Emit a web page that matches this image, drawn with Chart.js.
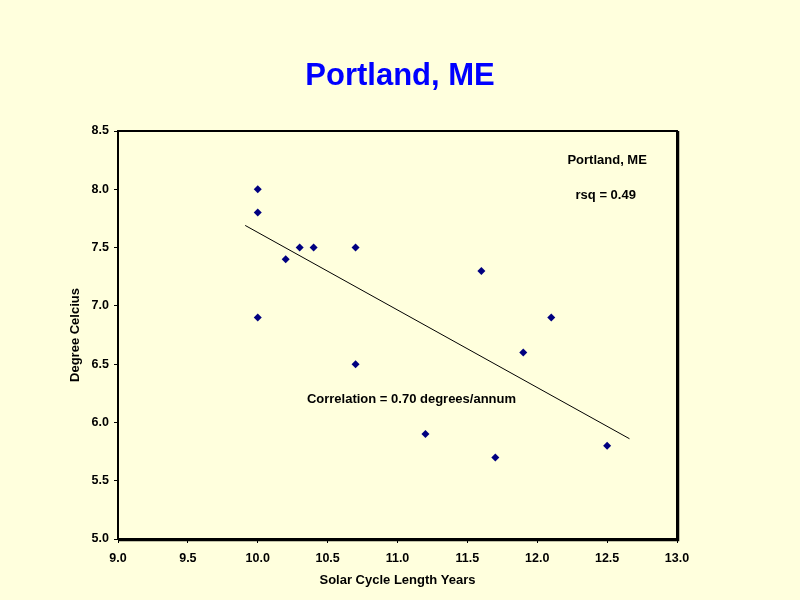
<!DOCTYPE html>
<html>
<head>
<meta charset="utf-8">
<script src="https://cdn.jsdelivr.net/npm/chart.js@4/dist/chart.umd.min.js"></script>
<style>
  html, body { margin: 0; padding: 0; background: #FFFFDD; }
  #wrap { width: 800px; height: 600px; }
</style>
</head>
<body>
<div id="wrap"><canvas id="c" width="800" height="600"></canvas></div>
<script>
// Data
const cycleLength = [10.0, 10.0, 10.0, 10.2, 10.3, 10.4, 10.7, 10.7, 11.2, 11.6, 11.7, 11.9, 12.1, 12.5];
const temperature = [8.0, 7.8, 6.9, 7.4, 7.5, 7.5, 7.5, 6.5, 5.9, 7.3, 5.7, 6.6, 6.9, 5.8];
const trendX = [9.91, 12.66];
const trendY = [7.69, 5.86];
const xTicks = [9.0, 9.5, 10.0, 10.5, 11.0, 11.5, 12.0, 12.5, 13.0];
const yTicks = [5.0, 5.5, 6.0, 6.5, 7.0, 7.5, 8.0, 8.5];
const chartTitle = 'Portland, ME';
const notes = [
  { text: 'Portland, ME', x: 12.50, y: 8.25 },
  { text: 'rsq = 0.49', x: 12.49, y: 7.95 },
  { text: 'Correlation = 0.70 degrees/annum', x: 11.1, y: 6.20 }
];

const FONT = '"Liberation Sans", Arial, sans-serif';

const bgPlugin = {
  id: 'bg',
  beforeDraw(chart) {
    const ctx = chart.ctx;
    ctx.save();
    ctx.fillStyle = '#FFFFDD';
    ctx.fillRect(0, 0, chart.width, chart.height);
    ctx.fillStyle = '#0000FF';
    ctx.font = 'bold 31px ' + FONT;
    ctx.textAlign = 'center';
    ctx.textBaseline = 'middle';
    ctx.fillText(chartTitle, chart.width / 2, 76);
    ctx.restore();
  }
};

const framePlugin = {
  id: 'frame',
  afterDatasetsDraw(chart) {
    const { ctx, chartArea: a, scales } = chart;
    ctx.save();
    ctx.strokeStyle = '#000';
    ctx.lineWidth = 2;
    ctx.strokeRect(a.left, a.top, a.right - a.left, a.bottom - a.top);
    ctx.lineWidth = 1.5;
    ctx.beginPath();
    ctx.moveTo(a.right + 1.5, a.top);
    ctx.lineTo(a.right + 1.5, a.bottom + 1.5);
    ctx.lineTo(a.left, a.bottom + 1.5);
    ctx.stroke();
    ctx.fillStyle = '#000';
    ctx.font = 'bold 13px ' + FONT;
    ctx.textAlign = 'center';
    ctx.textBaseline = 'middle';
    notes.forEach(n => {
      ctx.fillText(n.text, scales.x.getPixelForValue(n.x), scales.y.getPixelForValue(n.y));
    });
    ctx.restore();
  }
};

new Chart(document.getElementById('c'), {
  type: 'scatter',
  data: {
    datasets: [
      {
        label: 'Portland, ME',
        data: cycleLength.map((x, i) => ({ x, y: temperature[i] })),
        pointStyle: 'rectRot',
        pointRadius: 4,
        pointHoverRadius: 4,
        backgroundColor: '#000080',
        borderColor: '#000080',
        borderWidth: 0
      },
      {
        type: 'line',
        label: 'Trend',
        data: trendX.map((x, i) => ({ x, y: trendY[i] })),
        borderColor: '#000',
        borderWidth: 1,
        pointRadius: 0,
        fill: false
      }
    ]
  },
  options: {
    responsive: false,
    animation: false,
    devicePixelRatio: 1,
    layout: { padding: { left: 0, right: 123, top: 131, bottom: 0 } },
    plugins: {
      legend: { display: false },
      tooltip: { enabled: false },
      title: { display: false }
    },
    scales: {
      x: {
        type: 'linear',
        min: 9, max: 13,
        afterBuildTicks(scale) { scale.ticks = xTicks.map(v => ({ value: v })); },
        afterFit(scale) { scale.height = 61; },
        border: { display: false },
        grid: { display: true, drawOnChartArea: false, tickLength: 4, color: '#000', lineWidth: 1 },
        ticks: {
          color: '#000',
          padding: 8,
          maxRotation: 0,
          font: { family: FONT, size: 12.5, weight: 'bold' },
          callback: v => Number(v).toFixed(1)
        },
        title: {
          display: true,
          text: 'Solar Cycle Length Years',
          color: '#000',
          font: { family: FONT, size: 13, weight: 'bold' },
          padding: { top: 0, bottom: 12 }
        }
      },
      y: {
        type: 'linear',
        min: 5, max: 8.5,
        afterBuildTicks(scale) { scale.ticks = yTicks.map(v => ({ value: v })); },
        afterFit(scale) { scale.width = 118; },
        border: { display: false },
        grid: { display: true, drawOnChartArea: false, tickLength: 4, color: '#000', lineWidth: 1 },
        ticks: {
          color: '#000',
          padding: 5,
          font: { family: FONT, size: 12.5, weight: 'bold' },
          callback: v => Number(v).toFixed(1)
        },
        title: {
          display: true,
          text: 'Degree Celcius',
          color: '#000',
          font: { family: FONT, size: 13, weight: 'bold' },
          padding: { top: 68, bottom: 0 }
        }
      }
    }
  },
  plugins: [bgPlugin, framePlugin]
});
</script>
</body>
</html>
